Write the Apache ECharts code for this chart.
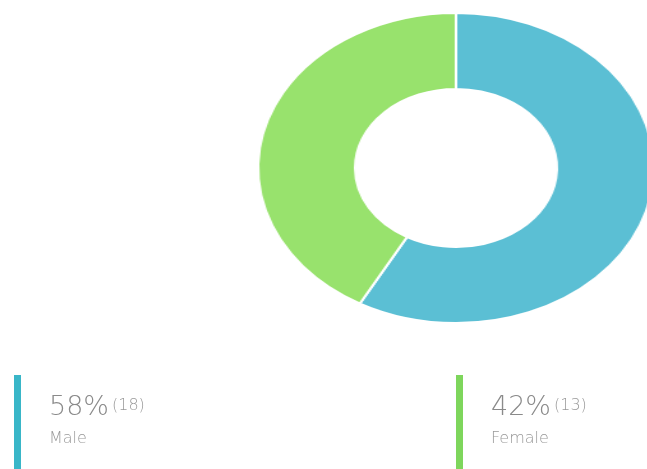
<!DOCTYPE html>
<html><head><meta charset="utf-8">
<script src="https://cdn.jsdelivr.net/npm/echarts@6/dist/echarts.min.js"></script>
<style>
html,body{margin:0;padding:0;background:#fff;width:647px;height:469px;overflow:hidden;position:relative;}
#pie{position:absolute;left:296px;top:8px;width:320px;height:320px;transform:scaleX(1.277);transform-origin:160px 160px;}
#leg{position:absolute;left:0;top:0;width:647px;height:469px;}
</style></head>
<body>
<div id="leg"></div>
<div id="pie"></div>
<script>
const categories = ['Male', 'Female'];
const counts = [18, 13];
const sliceColors = ['#5bbfd4', '#98e26d'];
const barColors = ['#39b6c8', '#7ed65c'];

const total = counts.reduce((a, b) => a + b, 0);

const pie = echarts.init(document.getElementById('pie'));
pie.setOption({
  animation: false,
  series: [{
    type: 'pie',
    center: ['50%', '50%'],
    radius: [79, 155],
    startAngle: 90,
    clockwise: true,
    label: { show: false },
    labelLine: { show: false },
    itemStyle: { borderColor: '#fff', borderWidth: 2 },
    data: categories.map((c, i) => ({ name: c, value: counts[i], itemStyle: { color: sliceColors[i] } }))
  }]
});

const leg = echarts.init(document.getElementById('leg'));
const xs = [14, 456];
const FF = '"DejaVu Sans", sans-serif';
const elements = [];
categories.forEach((c, i) => {
  const pct = Math.round(counts[i] / total * 100);
  elements.push({ type: 'rect', left: xs[i], top: 375, shape: { width: 7, height: 100 }, style: { fill: barColors[i] } });
  elements.push({
    type: 'text', left: xs[i] + 35, top: 394,
    style: {
      text: '{a|' + pct + '%}{b|(' + counts[i] + ')}',
      rich: {
        a: { fontFamily: FF, fontWeight: 200, fontSize: 27, fill: '#8a8a8a' },
        b: { fontFamily: FF, fontWeight: 200, fontSize: 16, fill: '#999', padding: [0, 0, 3, 3] }
      }
    }
  });
  elements.push({
    type: 'text', left: xs[i] + 35, top: 431,
    style: { text: c, fontFamily: FF, fontWeight: 200, fontSize: 16, fill: '#999' }
  });
});
leg.setOption({ animation: false, graphic: { elements } });
</script>
</body></html>
